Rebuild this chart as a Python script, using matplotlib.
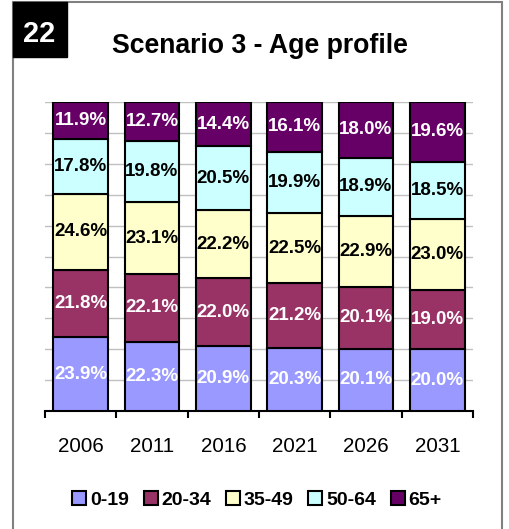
import matplotlib
matplotlib.use("Agg")
import matplotlib.pyplot as plt
from matplotlib.patches import Rectangle, Patch
import numpy as np

years = ["2006", "2011", "2016", "2021", "2026", "2031"]
groups = ["0-19", "20-34", "35-49", "50-64", "65+"]
v_0_19 = [23.9, 22.3, 20.9, 20.3, 20.1, 20.0]
v_20_34 = [21.8, 22.1, 22.0, 21.2, 20.1, 19.0]
v_35_49 = [24.6, 23.1, 22.2, 22.5, 22.9, 23.0]
v_50_64 = [17.8, 19.8, 20.5, 19.9, 18.9, 18.5]
v_65 = [11.9, 12.7, 14.4, 16.1, 18.0, 19.6]
series = [v_0_19, v_20_34, v_35_49, v_50_64, v_65]
colors = ["#9999FF", "#993366", "#FFFFCC", "#CCFFFF", "#660066"]
text_colors = ["white", "white", "black", "black", "white"]

plt.rcParams['font.family'] = ['Liberation Sans', 'DejaVu Sans']

W, H = 509, 529
fig = plt.figure(figsize=(W/100, H/100), dpi=100)

# frame
fig.patches.append(Rectangle((13/W, -0.05), (502-13)/W, 1.05 - 2/H, transform=fig.transFigure,
                             fill=False, edgecolor="#808080", linewidth=1.5))
# number box
fig.patches.append(Rectangle((13/W, 1-57/H), (67-13)/W, (57-2)/H, transform=fig.transFigure,
                             facecolor="black", edgecolor="black"))
fig.text(39/W, 1-42/H, "22", color="white", fontsize=21, fontweight="bold", ha="center", va="baseline")
fig.text(260/W, 1-53/H, "Scenario 3 - Age profile", fontsize=19.2, fontweight="bold", ha="center", va="baseline")

ax = fig.add_axes([45/W, 1-411/H, (473-45)/W, (411-102)/H])
x = np.arange(len(years))
bottom = np.zeros(len(years))
for vals, c, tc in zip(series, colors, text_colors):
    vals = np.array(vals)
    ax.bar(x, vals, bottom=bottom, width=0.77, color=c, edgecolor="black", linewidth=1.5, zorder=3)
    for xi, b, v in zip(x, bottom, vals):
        ax.text(xi, b + v/2, f"{v:.1f}%", ha="center", va="center", color=tc,
                fontsize=13.5, fontweight="bold", zorder=4)
    bottom += vals

ax.set_xlim(-0.5, len(years) - 0.5)
ax.set_ylim(0, 100)
ax.set_yticks(np.arange(0, 101, 10))
ax.yaxis.grid(True, color="#C0C0C0", linewidth=1, zorder=0)
ax.tick_params(axis='y', length=0, labelleft=False)
for s in ["left", "right", "top"]:
    ax.spines[s].set_visible(False)
ax.spines["bottom"].set_linewidth(1.5)
ax.set_xticks(np.arange(-0.5, len(years), 1))
ax.set_xticklabels([])
ax.tick_params(axis='x', which='major', direction='out', length=5, width=1.5)
ax.set_xticks(x, minor=True)
ax.set_xticklabels(years, minor=True)
ax.tick_params(axis='x', which='minor', length=0, pad=19, labelsize=14.8)

handles = [Patch(facecolor=c, edgecolor="black", linewidth=1.5) for c in colors]
fig.legend(handles, groups, loc="center", bbox_to_anchor=(257/W, 1-500/H), ncol=5,
           frameon=False, handlelength=0.72, handleheight=0.72, handletextpad=0.2,
           columnspacing=0.75, prop={"weight": "bold", "size": 14})

fig.savefig("out.png", dpi=100)
